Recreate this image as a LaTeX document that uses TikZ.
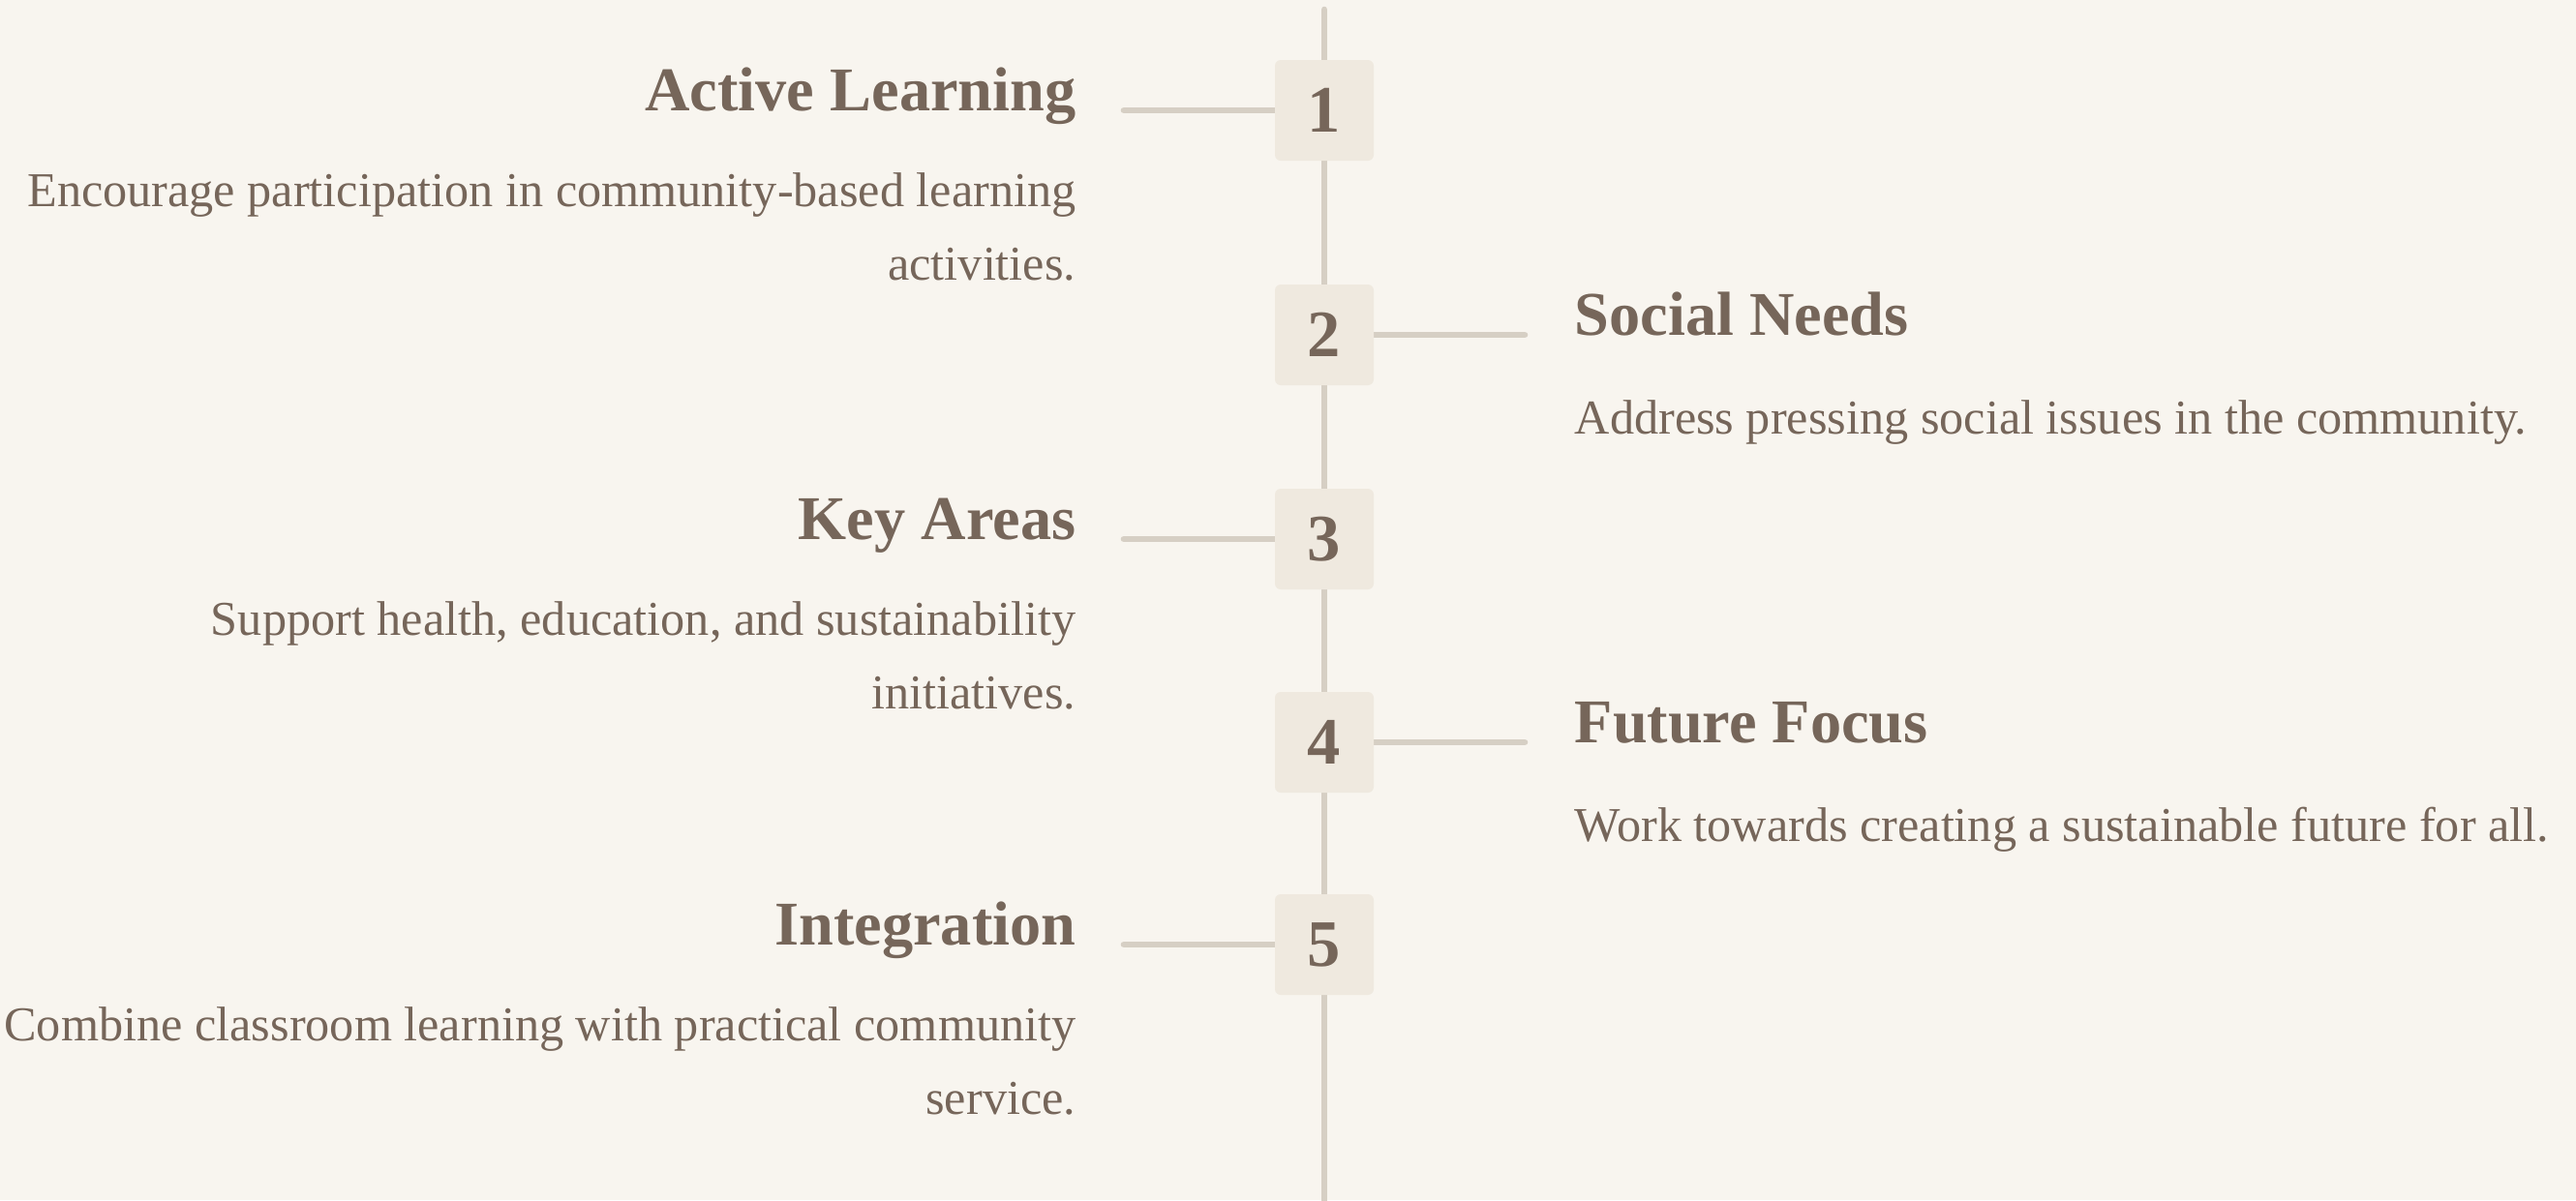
\documentclass[tikz,border=0pt]{standalone}
\usepackage{fontspec}
\setmainfont{Liberation Serif}
\usepackage{xcolor}
\usetikzlibrary{backgrounds}
\definecolor{ink}{HTML}{76665A}
\definecolor{rail}{HTML}{D6CFC4}
\definecolor{tile}{HTML}{EFE9DF}
\definecolor{paper}{HTML}{F8F5EF}

\begin{document}
\begin{tikzpicture}
[stepbox/.style={rectangle,fill=tile,rounded corners=0.6mm,minimum width=10.2mm,minimum height=10.4mm,inner sep=0pt,text=ink,font=\fontsize{19.5}{19.5}\selectfont\bfseries},
ttl/.style={text=ink,inner sep=0pt,font=\fontsize{18.3}{22}\selectfont\bfseries},
lttl/.style={ttl,anchor=base east},
rttl/.style={ttl,anchor=base west},
dsc/.style={text=ink,inner sep=0pt,font=\fontsize{14.3}{21.6}\selectfont},
ldsc/.style={dsc,align=right,anchor=base east},
rdsc/.style={dsc,align=left,anchor=base west},
link/.style={draw=rail,line width=1.9pt,line cap=round}]

\useasboundingbox (0,0) rectangle (26.61,-12.40);
\begin{scope}[on background layer]
\fill [paper] (0,0) rectangle (26.61,-12.40);
\end{scope}

\coordinate (top) at (13.68,-0.10);
\coordinate (bot) at (13.68,-12.60);
\coordinate (e1) at (11.61,-1.14);
\coordinate (e2) at (15.75,-3.46);
\coordinate (e3) at (11.61,-5.57);
\coordinate (e4) at (15.75,-7.67);
\coordinate (e5) at (11.61,-9.76);

% steps on the spine
\node at (13.68,-1.14) [stepbox] (n1) {1};
\node at (13.68,-3.46) [stepbox] (n2) {2};
\node at (13.68,-5.57) [stepbox] (n3) {3};
\node at (13.68,-7.67) [stepbox] (n4) {4};
\node at (13.68,-9.76) [stepbox] (n5) {5};

% left side (base of a two-line text is its last line)
\node at (11.12,-1.14) [lttl] (t1) {Active Learning};
\node at (11.12,-2.89) [ldsc] (d1) {Encourage participation in community-based learning\\activities.};
\node at (11.12,-5.57) [lttl] (t3) {Key Areas};
\node at (11.12,-7.32) [ldsc] (d3) {Support health, education, and sustainability\\initiatives.};
\node at (11.12,-9.76) [lttl] (t5) {Integration};
\node at (11.12,-11.51) [ldsc] (d5) {Combine classroom learning with practical community\\service.};

% right side
\node at (16.26,-3.46) [rttl] (t2) {Social Needs};
\node at (16.26,-4.48) [rdsc] (d2) {Address pressing social issues in the community.};
\node at (16.26,-7.67) [rttl] (t4) {Future Focus};
\node at (16.26,-8.69) [rdsc] (d4) {Work towards creating a sustainable future for all.};

\begin{scope}[on background layer]
\draw [link] (top) to (bot);
\draw [link] (n1.west) to (e1);
\draw [link] (n2.east) to (e2);
\draw [link] (n3.west) to (e3);
\draw [link] (n4.east) to (e4);
\draw [link] (n5.west) to (e5);
\end{scope}
\end{tikzpicture}
\end{document}
